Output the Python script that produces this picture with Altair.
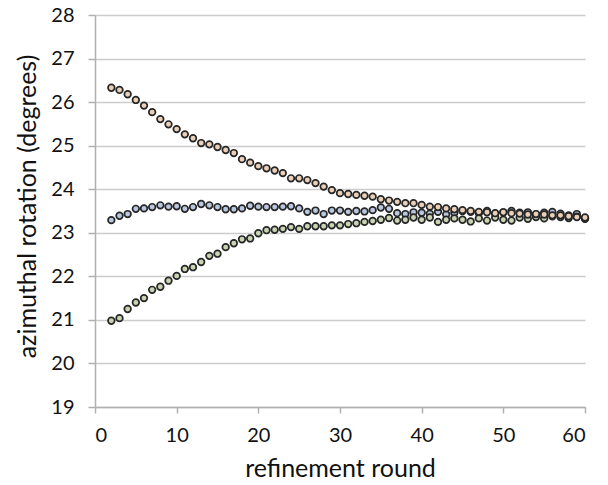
import altair as alt
import pandas as pd

rounds = list(range(2, 61))

orange = [26.33, 26.28, 26.18, 26.05, 25.92, 25.77, 25.61, 25.49, 25.38, 25.26,
          25.17, 25.06, 25.03, 24.97, 24.90, 24.83, 24.69, 24.61, 24.53, 24.48,
          24.43, 24.37, 24.25, 24.25, 24.21, 24.14, 24.06, 23.98, 23.91, 23.89,
          23.87, 23.85, 23.83, 23.77, 23.74, 23.71, 23.68, 23.68, 23.64, 23.60,
          23.59, 23.56, 23.54, 23.52, 23.50, 23.48, 23.47, 23.45, 23.47, 23.45,
          23.44, 23.42, 23.43, 23.42, 23.40, 23.40, 23.38, 23.36, 23.35]

blue = [23.29, 23.39, 23.43, 23.55, 23.56, 23.59, 23.63, 23.60, 23.61, 23.55,
        23.59, 23.66, 23.63, 23.59, 23.54, 23.54, 23.56, 23.62, 23.60, 23.59,
        23.59, 23.60, 23.61, 23.56, 23.48, 23.51, 23.43, 23.51, 23.51, 23.48,
        23.50, 23.49, 23.52, 23.58, 23.55, 23.45, 23.43, 23.47, 23.46, 23.44,
        23.48, 23.42, 23.46, 23.50, 23.48, 23.45, 23.50, 23.44, 23.47, 23.50,
        23.46, 23.47, 23.42, 23.46, 23.48, 23.44, 23.40, 23.43, 23.32]

green = [20.98, 21.04, 21.25, 21.40, 21.50, 21.69, 21.76, 21.90, 22.01, 22.17,
         22.21, 22.33, 22.47, 22.52, 22.67, 22.76, 22.85, 22.87, 22.99, 23.06,
         23.07, 23.09, 23.13, 23.09, 23.15, 23.15, 23.15, 23.17, 23.17, 23.20,
         23.22, 23.25, 23.27, 23.30, 23.34, 23.28, 23.30, 23.35, 23.30, 23.35,
         23.25, 23.30, 23.33, 23.30, 23.26, 23.33, 23.28, 23.35, 23.30, 23.28,
         23.35, 23.32, 23.36, 23.33, 23.38, 23.36, 23.34, 23.37, 23.33]

series_names = ["orange", "blue", "green"]
fills = ["#ebd0b9", "#b9c7df", "#c9d4b3"]

rows = []
for name, vals in zip(series_names, [orange, blue, green]):
    for r, v in zip(rounds, vals):
        rows.append({"round": r, "value": v, "series": name})
df = pd.DataFrame(rows)

font = "Lato"

chart = alt.Chart(df).mark_point(
    shape="circle", filled=True, size=44, stroke="#262626", strokeWidth=1.7, opacity=1
).encode(
    x=alt.X("round:Q", scale=alt.Scale(domain=[0, 60], nice=False),
            axis=alt.Axis(title="refinement round", values=[0, 10, 20, 30, 40, 50, 60],
                          grid=False, tickSize=6, labelPadding=12,
                          titleY=61, titleBaseline="middle")),
    y=alt.Y("value:Q", scale=alt.Scale(domain=[19, 28], nice=False, zero=False),
            axis=alt.Axis(title="azimuthal rotation (degrees)",
                          values=[19, 20, 21, 22, 23, 24, 25, 26, 27, 28],
                          grid=True, tickSize=7, labelPadding=14,
                          titleX=-68, titleY=191, titleBaseline="middle")),
    fill=alt.Fill("series:N", scale=alt.Scale(domain=series_names, range=fills), legend=None),
    order=alt.Order("series:N"),
).properties(
    width=490, height=392,
    autosize=alt.AutoSizeParams(type="none"),
    padding={"left": 95, "top": 15, "right": 23, "bottom": 78},
).configure_view(
    stroke=None
).configure_axis(
    labelFont=font, titleFont=font, labelFontSize=20, titleFontSize=25,
    labelColor="#111", titleColor="#111", titleFontWeight="normal",
    domainColor="#b0b0b0", tickColor="#b0b0b0", gridColor="#cccccc",
    gridWidth=1.5, domainWidth=1.5, tickWidth=1.5,
)

chart.save("out.html", embed_options={"renderer": "svg", "actions": False})
